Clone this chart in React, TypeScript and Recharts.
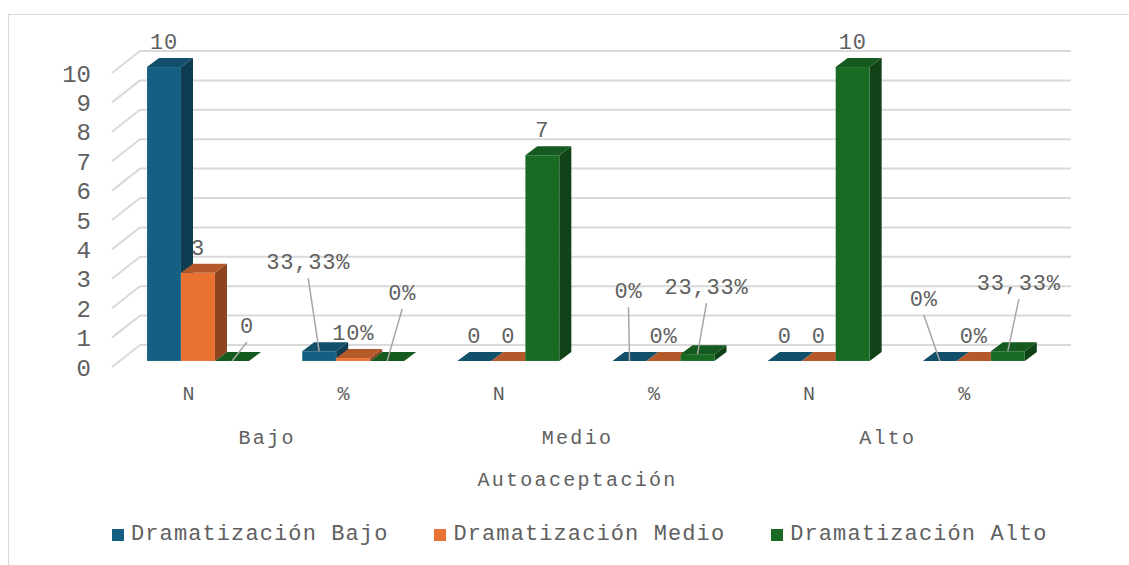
import React from 'react'
import { BarChart, Bar, XAxis, YAxis, CartesianGrid, LabelList } from 'recharts'

const categories = ['N', '%', 'N', '%', 'N', '%']
const groups = ['Bajo', 'Medio', 'Alto']
const dramatizacionBajo = [10, 0.3333, 0, 0, 0, 0]
const dramatizacionMedio = [3, 0.1, 0, 0, 0, 0]
const dramatizacionAlto = [0, 0, 7, 0.2333, 10, 0.3333]
const yTicks = [0, 1, 2, 3, 4, 5, 6, 7, 8, 9, 10]
const axisTitle = 'Autoaceptación'

const series = [
  { key: 'bajo', name: 'Dramatización Bajo', front: '#156082', top: '#124f6b', side: '#0e3c51' },
  { key: 'medio', name: 'Dramatización Medio', front: '#E97132', top: '#b5592a', side: '#8e4321' },
  { key: 'alto', name: 'Dramatización Alto', front: '#196B24', top: '#155a1e', side: '#104418' },
]

const data = categories.map((c, i) => ({
  id: `${groups[Math.floor(i / 2)]}-${c}`,
  bajo: dramatizacionBajo[i],
  medio: dramatizacionMedio[i],
  alto: dramatizacionAlto[i],
}))

// label nudges (series index - category index) for the labels pulled out with leader lines
const labelNudges: Record<string, [number, number]> = {
  '0-1': [-11, -64],
  '2-0': [15, -10],
  '2-1': [15, -43],
  '0-3': [-1, -45],
  '2-3': [9, -42],
  '0-5': [-16, -37],
  '2-5': [11, -43],
}

const FONT = '"Liberation Mono", "Courier New", monospace'
const TEXT = '#606060'
const GRID = '#d9d9d9'
const W = 1120
const H = 550
const MARGIN = { top: 58, right: 86, left: 43, bottom: 68 }
const PLOT_W = W - MARGIN.left - 60 - MARGIN.right
const BAND = PLOT_W / categories.length
// 3d offsets
const SHIFT_X = 9
const SHIFT_Y = -6
const DEPTH_X = 12
const DEPTH_Y = 9
const WALL_X = 28
const WALL_Y = 22

const fmt = (v: number, i: number) => {
  if (i % 2 === 0) return String(v)
  return `${Number((v * 100).toFixed(2))}`.replace('.', ',') + '%'
}

const make3DBar = (s: typeof series[number]) => (props: any) => {
  const { x, y, width, height } = props
  const h = Math.max(height || 0, 0)
  const fx = x + SHIFT_X
  const fy = y + SHIFT_Y
  const base = fy + h
  const edge = 'rgba(255,255,255,0.18)'
  return (
    <g>
      {h > 0 && <rect x={fx} y={fy} width={width} height={h} fill={s.front} stroke={edge} strokeWidth={0.6} />}
      {h > 0 && (
        <polygon
          points={`${fx + width},${fy} ${fx + width + DEPTH_X},${fy - DEPTH_Y} ${fx + width + DEPTH_X},${base - DEPTH_Y} ${fx + width},${base}`}
          fill={s.side}
        />
      )}
      <polygon
        points={`${fx},${fy} ${fx + width},${fy} ${fx + width + DEPTH_X},${fy - DEPTH_Y} ${fx + DEPTH_X},${fy - DEPTH_Y}`}
        fill={s.top}
      />
    </g>
  )
}

const makeLabel = (si: number) => (props: any) => {
  const { x, y, width, value, index } = props
  const cx = x + SHIFT_X + width / 2
  const top = y + SHIFT_Y
  const nudge = labelNudges[`${si}-${index}`]
  const lx = cx + (nudge ? nudge[0] : 0)
  const ly = top - 26 + (nudge ? nudge[1] : 0)
  return (
    <g>
      {nudge && <line x1={lx} y1={ly + 17} x2={cx} y2={top} stroke="#a6a6a6" strokeWidth={1.5} />}
      <text
        x={lx}
        y={ly}
        dy="0.35em"
        textAnchor="middle"
        fill={TEXT}
        fontFamily={FONT}
        fontSize={22}
        style={{ letterSpacing: '0.8px' }}
      >
        {fmt(value, index)}
      </text>
    </g>
  )
}

const gridLine = (props: any) => {
  const { x1, y1, x2, key } = props
  return (
    <g key={key}>
      <line x1={x1} y1={y1} x2={x1 + WALL_X} y2={y1 - WALL_Y} stroke={GRID} strokeWidth={2} />
      <line x1={x1 + WALL_X} y1={y1 - WALL_Y} x2={x2 + WALL_X} y2={y1 - WALL_Y} stroke={GRID} strokeWidth={2} />
    </g>
  )
}

const CategoryTick = (props: any) => {
  const { x, y, payload } = props
  const i = payload.index
  const style = { letterSpacing: '2.3px' }
  return (
    <g>
      <text x={x} y={y + 24} dy="0.35em" textAnchor="middle" fill={TEXT} fontFamily={FONT} fontSize={20} style={style}>
        {categories[i]}
      </text>
      {i % 2 === 0 && (
        <text x={x + BAND / 2} y={y + 68} dy="0.35em" textAnchor="middle" fill={TEXT} fontFamily={FONT} fontSize={20} style={style}>
          {groups[i / 2]}
        </text>
      )}
      {i === 0 && (
        <text x={x - BAND / 2 + PLOT_W / 2} y={y + 110} dy="0.35em" textAnchor="middle" fill={TEXT} fontFamily={FONT} fontSize={20} style={style}>
          {axisTitle}
        </text>
      )}
    </g>
  )
}

export default function App() {
  return (
    <div
      style={{
        position: 'absolute',
        left: 8,
        top: 14,
        width: 1121,
        height: 551,
        borderTop: `1px solid ${GRID}`,
        borderLeft: `1px solid ${GRID}`,
        background: '#fff',
      }}
    >
      <BarChart width={W} height={H} data={data} margin={MARGIN} barCategoryGap={26} barGap={0}>
        <CartesianGrid vertical={false} horizontal={gridLine} />
        <XAxis dataKey="id" axisLine={false} tickLine={false} tickSize={0} height={130} interval={0} tick={<CategoryTick />} />
        <YAxis
          domain={[0, 10]}
          ticks={yTicks}
          interval={0}
          width={60}
          axisLine={false}
          tickLine={false}
          tickSize={0}
          tickMargin={21}
          tick={{ fill: TEXT, fontFamily: FONT, fontSize: 24 }}
        />
        {series.map((s, si) => (
          <Bar key={s.key} dataKey={s.key} name={s.name} shape={make3DBar(s)} isAnimationActive={false}>
            <LabelList dataKey={s.key} content={makeLabel(si)} />
          </Bar>
        ))}
      </BarChart>
      <div
        style={{
          position: 'absolute',
          left: 103,
          top: 507,
          display: 'flex',
          gap: 46,
          fontFamily: FONT,
          fontSize: 22,
          letterSpacing: '1.1px',
          color: TEXT,
          alignItems: 'center',
          whiteSpace: 'nowrap',
        }}
      >
        {series.map((s) => (
          <div key={s.key} style={{ display: 'flex', alignItems: 'center', gap: 7 }}>
            <span style={{ width: 12, height: 12, background: s.front, display: 'inline-block' }} />
            <span>{s.name}</span>
          </div>
        ))}
      </div>
    </div>
  )
}
